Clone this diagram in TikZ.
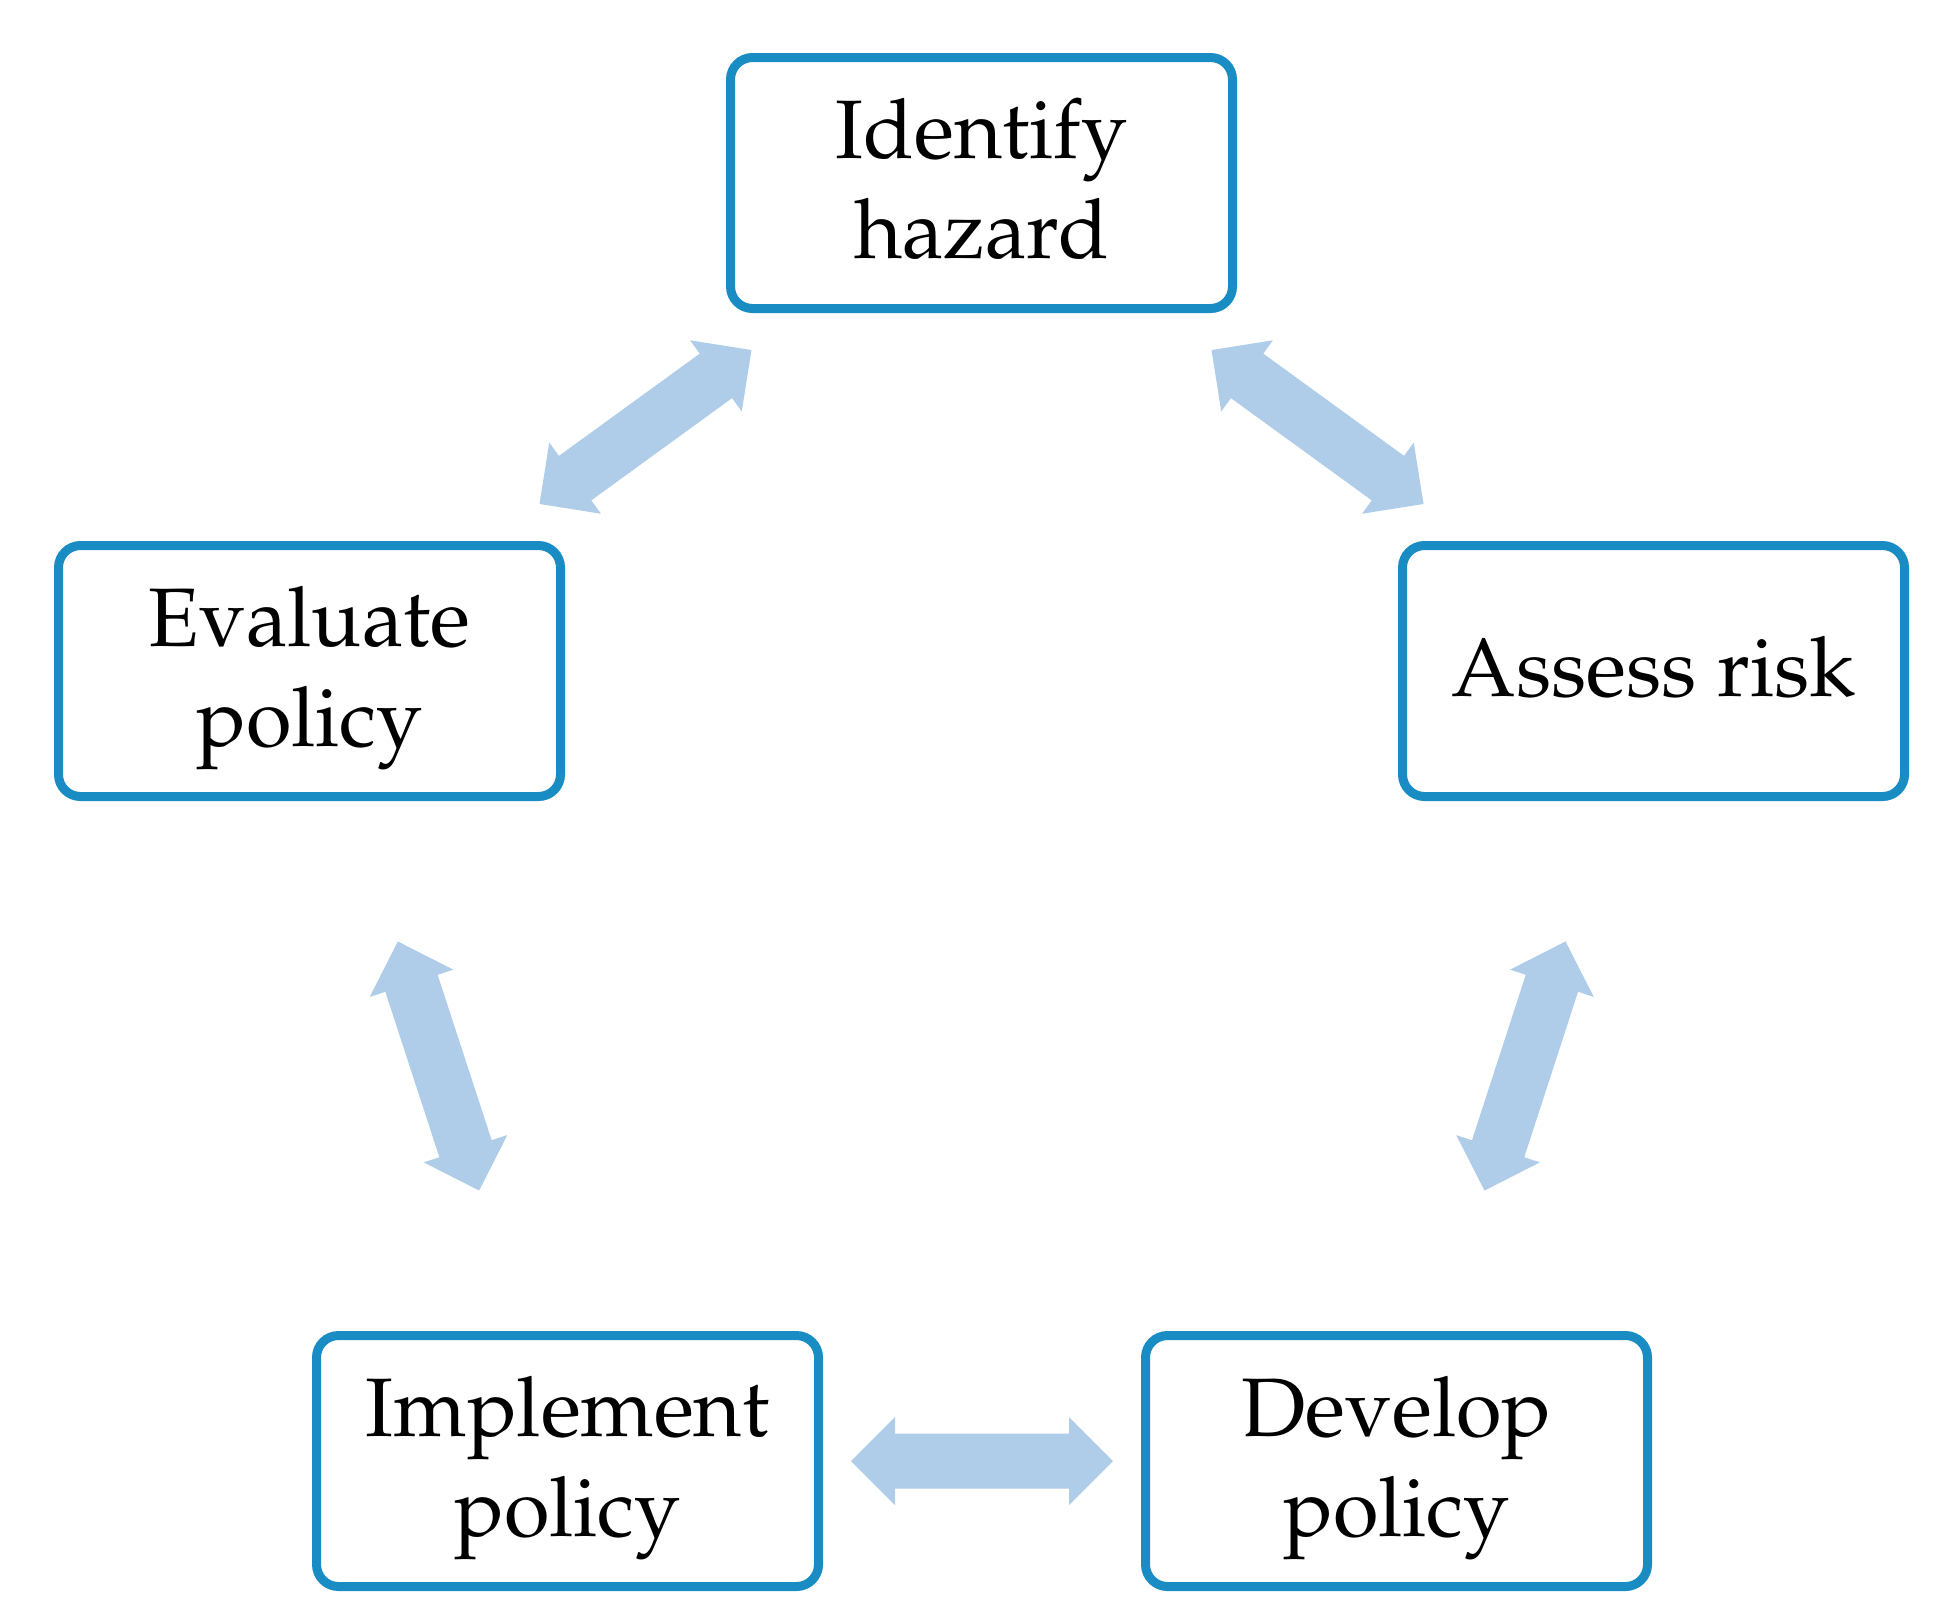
\documentclass[tikz,border=0pt]{standalone}
\usepackage[T1]{fontenc}
\renewcommand{\rmdefault}{ppl}
\usetikzlibrary{calc}
\definecolor{boxblue}{RGB}{26,140,196}
\definecolor{arrowblue}{RGB}{175,205,233}
\newcommand\lstrut{\rule[-25pt]{0pt}{100pt}}
\newcommand\dblarrow[2]{%
  \coordinate (m) at ($(#1)!0.5!(#2)$);
  \coordinate (t1) at ($(m)!131pt!(#1)$);
  \coordinate (t2) at ($(m)!131pt!(#2)$);
  \coordinate (h1) at ($(t1)!44pt!(t2)$);
  \coordinate (h2) at ($(t2)!44pt!(t1)$);
  \fill[arrowfill] (t1) -- ($(h1)!44pt!90:(t1)$) -- ($(h1)!27.5pt!90:(t1)$)
    -- ($(h2)!27.5pt!-90:(t2)$) -- ($(h2)!44pt!-90:(t2)$) -- (t2)
    -- ($(h2)!44pt!90:(t2)$) -- ($(h2)!27.5pt!90:(t2)$)
    -- ($(h1)!27.5pt!-90:(t1)$) -- ($(h1)!44pt!-90:(t1)$) -- cycle;
}
\tikzset{
  stepbox/.style={draw=boxblue, line width=9pt, rounded corners=22pt,
    minimum width=502pt, minimum height=251pt, inner sep=0pt,
    align=center, font=\fontsize{83}{100}\selectfont},
  arrowfill/.style={fill=arrowblue, draw=none}
}
\begin{document}
\begin{tikzpicture}
\useasboundingbox (0,0) rectangle (1942pt,-1623pt);
\node[stepbox] (identify) at (981.5pt,-183pt) {Identify\lstrut\\hazard\lstrut};
\node[stepbox] (evaluate) at (309.5pt,-671pt) {Evaluate\lstrut\\policy\lstrut};
\node[stepbox] (assess) at (1653.5pt,-671pt) {Assess risk\lstrut};
\node[stepbox] (implement) at (567.5pt,-1461pt) {Implement\lstrut\\policy\lstrut};
\node[stepbox] (develop) at (1396.5pt,-1461pt) {Develop\lstrut\\policy\lstrut};
\dblarrow{evaluate}{identify}
\dblarrow{identify}{assess}
\dblarrow{assess}{develop}
\dblarrow{develop}{implement}
\dblarrow{implement}{evaluate}
\end{tikzpicture}
\end{document}
